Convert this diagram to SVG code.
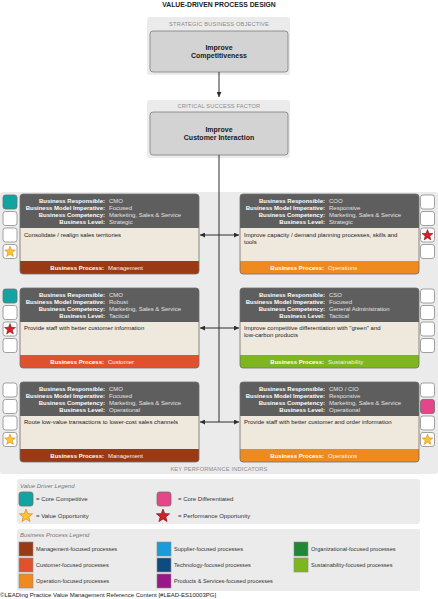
<svg xmlns="http://www.w3.org/2000/svg" xmlns:xlink="http://www.w3.org/1999/xlink" width="438" height="599" viewBox="0 0 438 599">
<style>
text{font-family:"Liberation Sans",Arial,sans-serif}
.title{font-size:6.8px;font-weight:bold;fill:#222}
.plab{font-size:5.7px;fill:#8c8c8c;letter-spacing:0.15px}
.pan{fill:#ebebeb}
.inner{fill:#d3d3d3;stroke:#7d7d7d;stroke-width:0.8}
.big{font-size:7px;font-weight:bold;fill:#1a1a1a;text-anchor:middle}
.hd{fill:#5e5e5e}
.bd{fill:#efe8dd}
.ol{fill:none;stroke:#6e6e6e;stroke-width:0.8}
.lb{font-size:6px;font-weight:bold;fill:#fff;text-anchor:end}
.vl{font-size:6px;fill:#e2e2e2}
.bt{font-size:6px;fill:#222}
.fl{font-size:6px;font-weight:bold;fill:#fff;text-anchor:end}
.fv{font-size:6px;fill:#f2f2f2}
.ind{fill:#fff;stroke:#8a8a8a;stroke-width:0.8}
.teal{fill:#13a3a1;stroke:#6f6f6f;stroke-width:0.8}
.pink{fill:#e6458a;stroke:#6f6f6f;stroke-width:0.8}
.gstar{fill:#f7c531;stroke:#e0871c;stroke-width:0.6}
.rstar{fill:#d3212a;stroke:#7e1010;stroke-width:0.6}
.mgmt{fill:#9a3a15}
.cust{fill:#e0522b}
.oper{fill:#ef8a1f}
.sust{fill:#7db61f}
.supp{fill:#1b9bd7}
.tech{fill:#0f4a80}
.prod{fill:#981887}
.orgn{fill:#1f8736}
.conn{stroke:#2e2e2e;stroke-width:1;fill:none}
.lgt{font-size:6px;fill:#777;font-style:italic}
.lgx{font-size:6px;fill:#333}
.lgp{font-size:5.6px;fill:#333}
.sw{stroke:#8a8a8a;stroke-width:0.6}
.foot{font-size:6px;fill:#222}
</style>
<defs>
<clipPath id="nc"><rect width="179" height="80" rx="3"/></clipPath>
<marker id="arr" viewBox="0 0 6 6" refX="6" refY="3" markerWidth="5" markerHeight="5" orient="auto" markerUnits="userSpaceOnUse"><path d="M0,0 L6,3 L0,6 z" fill="#2e2e2e"/></marker>
<path id="star" d="M0,-6 L1.5,-2.05 L5.71,-1.85 L2.43,0.79 L3.53,4.85 L0,2.55 L-3.53,4.85 L-2.43,0.79 L-5.71,-1.85 L-1.5,-2.05 Z"/>
</defs>
<rect width="438" height="599" fill="#fff"/>
<text class="title" x="219" y="7" text-anchor="middle">VALUE-DRIVEN PROCESS DESIGN</text>

<g id="objective">
<rect class="pan" x="147" y="17" width="143" height="58" rx="3"/>
<text class="plab" x="219" y="26" text-anchor="middle">STRATEGIC BUSINESS OBJECTIVE</text>
<rect class="inner" x="150" y="31" width="138" height="41" rx="3"/>
<text class="big" x="219" y="50">Improve</text>
<text class="big" x="219" y="58">Competitiveness</text>
</g>

<g id="csf">
<rect class="pan" x="147" y="100" width="143" height="58" rx="3"/>
<text class="plab" x="219" y="108" text-anchor="middle">CRITICAL SUCCESS FACTOR</text>
<rect class="inner" x="150" y="112" width="138" height="43" rx="3"/>
<text class="big" x="219" y="132">Improve</text>
<text class="big" x="219" y="140">Customer Interaction</text>
</g>

<g id="kpi-panel">
<rect class="pan" x="0" y="192" width="438" height="282" rx="3"/>
<text class="plab" x="219" y="471" text-anchor="middle">KEY PERFORMANCE INDICATORS</text>
</g>

<g id="connectors">
<line class="conn" x1="219" y1="72" x2="219" y2="97" marker-end="url(#arr)"/>
<line class="conn" x1="219" y1="155" x2="219" y2="422"/>
<line class="conn" x1="219" y1="235" x2="200" y2="235" marker-end="url(#arr)"/>
<line class="conn" x1="219" y1="235" x2="239" y2="235" marker-end="url(#arr)"/>
<line class="conn" x1="219" y1="328" x2="200" y2="328" marker-end="url(#arr)"/>
<line class="conn" x1="219" y1="328" x2="239" y2="328" marker-end="url(#arr)"/>
<line class="conn" x1="219" y1="422" x2="200" y2="422" marker-end="url(#arr)"/>
<line class="conn" x1="219" y1="422" x2="239" y2="422" marker-end="url(#arr)"/>
</g>

<g id="kpi-1" transform="translate(20,194)">
<g clip-path="url(#nc)"><rect class="hd" width="179" height="34"/><rect class="bd" y="34" width="179" height="33"/><rect class="mgmt" y="67" width="179" height="13"/></g>
<rect class="ol" width="179" height="80" rx="3"/>
<text class="lb" x="85" y="9">Business Responsible:</text><text class="vl" x="89" y="9">CMO</text>
<text class="lb" x="85" y="16">Business Model Imperative:</text><text class="vl" x="89" y="16">Focused</text>
<text class="lb" x="85" y="23">Business Competency:</text><text class="vl" x="89" y="23">Marketing, Sales &amp; Service</text>
<text class="lb" x="85" y="30">Business Level:</text><text class="vl" x="89" y="30">Strategic</text>
<text class="bt" x="4" y="43">Consolidate / realign sales territories</text>
<text class="fl" x="84" y="76">Business Process:</text><text class="fv" x="88" y="76">Management</text>
<rect class="teal" x="-17" y="1" width="14" height="14" rx="2.5"/>
<rect class="ind" x="-17" y="17.5" width="14" height="14" rx="2.5"/>
<rect class="ind" x="-17" y="34" width="14" height="14" rx="2.5"/>
<rect class="ind" x="-17" y="50.5" width="14" height="14" rx="2.5"/>
<use href="#star" class="gstar" transform="translate(-10,57.8) scale(0.95)"/>
</g>

<g id="kpi-2" transform="translate(240,194)">
<g clip-path="url(#nc)"><rect class="hd" width="179" height="34"/><rect class="bd" y="34" width="179" height="33"/><rect class="oper" y="67" width="179" height="13"/></g>
<rect class="ol" width="179" height="80" rx="3"/>
<text class="lb" x="85" y="9">Business Responsible:</text><text class="vl" x="89" y="9">COO</text>
<text class="lb" x="85" y="16">Business Model Imperative:</text><text class="vl" x="89" y="16">Responsive</text>
<text class="lb" x="85" y="23">Business Competency:</text><text class="vl" x="89" y="23">Marketing, Sales &amp; Service</text>
<text class="lb" x="85" y="30">Business Level:</text><text class="vl" x="89" y="30">Strategic</text>
<text class="bt" x="4" y="43">Improve capacity / demand planning processes, skills and</text>
<text class="bt" x="4" y="50">tools</text>
<text class="fl" x="84" y="76">Business Process:</text><text class="fv" x="88" y="76">Operations</text>
<rect class="ind" x="180.5" y="1" width="14" height="14" rx="2.5"/>
<rect class="ind" x="180.5" y="17.5" width="14" height="14" rx="2.5"/>
<rect class="ind" x="180.5" y="34" width="14" height="14" rx="2.5"/>
<rect class="ind" x="180.5" y="50.5" width="14" height="14" rx="2.5"/>
<use href="#star" class="rstar" transform="translate(187.5,41.3) scale(0.95)"/>
</g>

<g id="kpi-3" transform="translate(20,288)">
<g clip-path="url(#nc)"><rect class="hd" width="179" height="34"/><rect class="bd" y="34" width="179" height="33"/><rect class="cust" y="67" width="179" height="13"/></g>
<rect class="ol" width="179" height="80" rx="3"/>
<text class="lb" x="85" y="9">Business Responsible:</text><text class="vl" x="89" y="9">CMO</text>
<text class="lb" x="85" y="16">Business Model Imperative:</text><text class="vl" x="89" y="16">Robust</text>
<text class="lb" x="85" y="23">Business Competency:</text><text class="vl" x="89" y="23">Marketing, Sales &amp; Service</text>
<text class="lb" x="85" y="30">Business Level:</text><text class="vl" x="89" y="30">Tactical</text>
<text class="bt" x="4" y="42">Provide staff with better customer information</text>
<text class="fl" x="84" y="76">Business Process:</text><text class="fv" x="88" y="76">Customer</text>
<rect class="teal" x="-17" y="1" width="14" height="14" rx="2.5"/>
<rect class="ind" x="-17" y="17.5" width="14" height="14" rx="2.5"/>
<rect class="ind" x="-17" y="34" width="14" height="14" rx="2.5"/>
<rect class="ind" x="-17" y="50.5" width="14" height="14" rx="2.5"/>
<use href="#star" class="rstar" transform="translate(-10,41.3) scale(0.95)"/>
</g>

<g id="kpi-4" transform="translate(240,288)">
<g clip-path="url(#nc)"><rect class="hd" width="179" height="34"/><rect class="bd" y="34" width="179" height="33"/><rect class="sust" y="67" width="179" height="13"/></g>
<rect class="ol" width="179" height="80" rx="3"/>
<text class="lb" x="85" y="9">Business Responsible:</text><text class="vl" x="89" y="9">CSO</text>
<text class="lb" x="85" y="16">Business Model Imperative:</text><text class="vl" x="89" y="16">Focused</text>
<text class="lb" x="85" y="23">Business Competency:</text><text class="vl" x="89" y="23">General Administration</text>
<text class="lb" x="85" y="30">Business Level:</text><text class="vl" x="89" y="30">Tactical</text>
<text class="bt" x="4" y="42">Improve competitive differentiation with "green" and</text>
<text class="bt" x="4" y="49">low-carbon products</text>
<text class="fl" x="84" y="76">Business Process:</text><text class="fv" x="88" y="76">Sustainability</text>
<rect class="ind" x="180.5" y="1" width="14" height="14" rx="2.5"/>
<rect class="ind" x="180.5" y="17.5" width="14" height="14" rx="2.5"/>
<rect class="ind" x="180.5" y="34" width="14" height="14" rx="2.5"/>
<rect class="ind" x="180.5" y="50.5" width="14" height="14" rx="2.5"/>
</g>

<g id="kpi-5" transform="translate(20,382)">
<g clip-path="url(#nc)"><rect class="hd" width="179" height="34"/><rect class="bd" y="34" width="179" height="33"/><rect class="mgmt" y="67" width="179" height="13"/></g>
<rect class="ol" width="179" height="80" rx="3"/>
<text class="lb" x="85" y="9">Business Responsible:</text><text class="vl" x="89" y="9">CMO</text>
<text class="lb" x="85" y="16">Business Model Imperative:</text><text class="vl" x="89" y="16">Focused</text>
<text class="lb" x="85" y="23">Business Competency:</text><text class="vl" x="89" y="23">Marketing, Sales &amp; Service</text>
<text class="lb" x="85" y="30">Business Level:</text><text class="vl" x="89" y="30">Operational</text>
<text class="bt" x="4" y="42">Route low-value transactions to lower-cost sales channels</text>
<text class="fl" x="84" y="76">Business Process:</text><text class="fv" x="88" y="76">Management</text>
<rect class="ind" x="-17" y="1" width="14" height="14" rx="2.5"/>
<rect class="ind" x="-17" y="17.5" width="14" height="14" rx="2.5"/>
<rect class="ind" x="-17" y="34" width="14" height="14" rx="2.5"/>
<rect class="ind" x="-17" y="50.5" width="14" height="14" rx="2.5"/>
<use href="#star" class="gstar" transform="translate(-10,57.8) scale(0.95)"/>
</g>

<g id="kpi-6" transform="translate(240,382)">
<g clip-path="url(#nc)"><rect class="hd" width="179" height="34"/><rect class="bd" y="34" width="179" height="33"/><rect class="oper" y="67" width="179" height="13"/></g>
<rect class="ol" width="179" height="80" rx="3"/>
<text class="lb" x="85" y="9">Business Responsible:</text><text class="vl" x="89" y="9">CMO / CIO</text>
<text class="lb" x="85" y="16">Business Model Imperative:</text><text class="vl" x="89" y="16">Responsive</text>
<text class="lb" x="85" y="23">Business Competency:</text><text class="vl" x="89" y="23">Marketing, Sales &amp; Service</text>
<text class="lb" x="85" y="30">Business Level:</text><text class="vl" x="89" y="30">Operational</text>
<text class="bt" x="4" y="42">Provide staff with better customer and order information</text>
<text class="fl" x="84" y="76">Business Process:</text><text class="fv" x="88" y="76">Operations</text>
<rect class="ind" x="180.5" y="1" width="14" height="14" rx="2.5"/>
<rect class="pink" x="180.5" y="17.5" width="14" height="14" rx="2.5"/>
<rect class="ind" x="180.5" y="34" width="14" height="14" rx="2.5"/>
<rect class="ind" x="180.5" y="50.5" width="14" height="14" rx="2.5"/>
<use href="#star" class="gstar" transform="translate(187.5,57.8) scale(0.95)"/>
</g>

<g id="value-driver-legend">
<rect class="pan" x="17" y="479" width="403" height="45" rx="3"/>
<text class="lgt" x="20" y="488">Value Driver Legend</text>
<rect class="teal" x="19" y="492" width="14" height="14" rx="2.5"/>
<text class="lgx" x="36" y="501">= Core Competitive</text>
<rect class="pink" x="157" y="492" width="14" height="14" rx="2.5"/>
<text class="lgx" x="178" y="501">= Core Differentiated</text>
<use href="#star" class="gstar" transform="translate(26,516) scale(1.15)"/>
<text class="lgx" x="36" y="518">= Value Opportunity</text>
<use href="#star" class="rstar" transform="translate(163,516) scale(1.15)"/>
<text class="lgx" x="178" y="518">= Performance Opportunity</text>
</g>

<g id="business-process-legend">
<rect class="pan" x="17" y="529" width="403" height="62" rx="3"/>
<text class="lgt" x="20" y="537">Business Process Legend</text>
<rect class="mgmt sw" x="19" y="542" width="14" height="14"/>
<text class="lgp" x="36" y="551">Management-focused processes</text>
<rect class="cust sw" x="19" y="558" width="14" height="14"/>
<text class="lgp" x="36" y="567">Customer-focused processes</text>
<rect class="oper sw" x="19" y="574" width="14" height="14"/>
<text class="lgp" x="36" y="583">Operation-focused processes</text>
<rect class="supp sw" x="157" y="542" width="14" height="14"/>
<text class="lgp" x="174" y="551">Supplier-focused processes</text>
<rect class="tech sw" x="157" y="558" width="14" height="14"/>
<text class="lgp" x="174" y="567">Technology-focused processes</text>
<rect class="prod sw" x="157" y="574" width="14" height="14"/>
<text class="lgp" x="174" y="583">Products &amp; Services-focused processes</text>
<rect class="orgn sw" x="294" y="542" width="14" height="14"/>
<text class="lgp" x="311" y="551">Organizational-focused processes</text>
<rect class="sust sw" x="294" y="558" width="14" height="14"/>
<text class="lgp" x="311" y="567">Sustainability-focused processes</text>
</g>

<text class="foot" x="0" y="597">©LEADing Practice Value Management Reference Content [#LEAD-ES10003PG]</text>
</svg>
